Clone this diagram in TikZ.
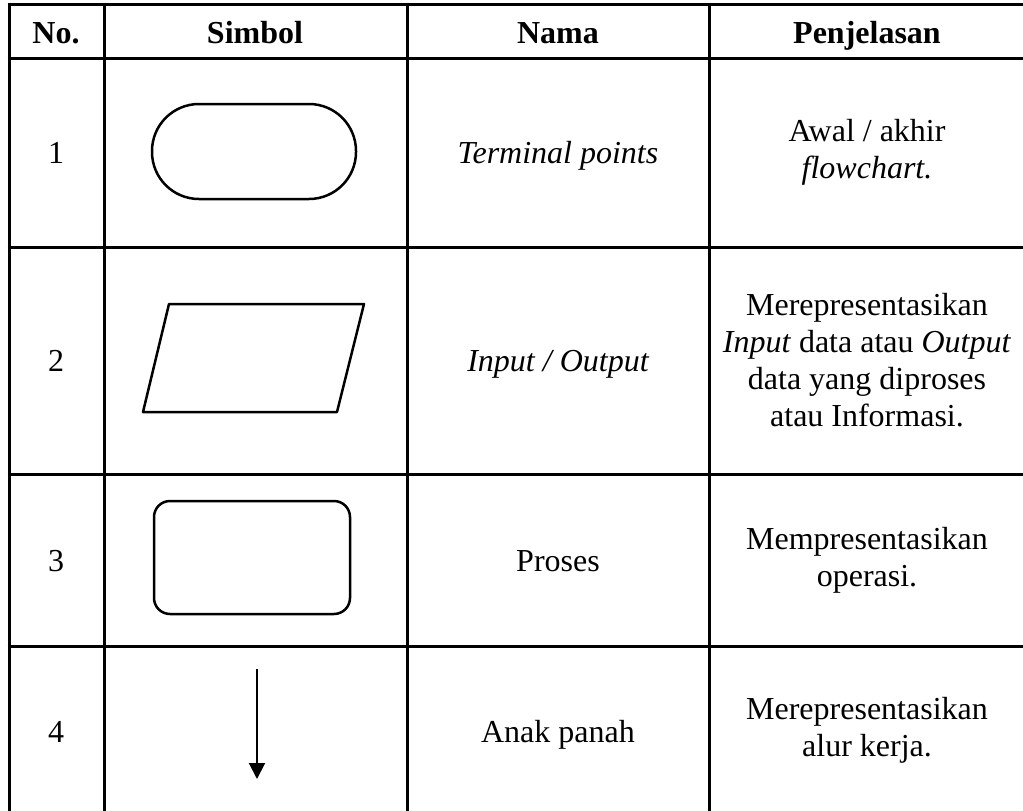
\documentclass[tikz,border=0pt]{standalone}
\usepackage{fontspec}
\setmainfont{Liberation Serif}
\usetikzlibrary{arrows.meta}

\begin{document}
\begin{tikzpicture}[x=1pt,y=-1pt,
    grid/.style={line width=3pt},
    symb/.style={line width=2.5pt, line join=round},
    cell/.style={align=center, inner sep=0pt, font=\fontsize{32}{37}\selectfont},
    line/.style={cell, anchor=base},
    head/.style={line, font=\fontsize{32}{37}\selectfont\bfseries}]
    \useasboundingbox (0,0) rectangle (1023,811);
    % table rules
    \foreach \x in {9,104,407,709}
        \draw[grid] (\x,2.5) -- (\x,812);
    \foreach \y in {4,58,247,474,646}
        \draw[grid] (7.5,\y) -- (1024,\y);
    % header
    \node[head] (hno) at (56,43) {No.};
    \node[head] (hsym) at (255,43) {Simbol};
    \node[head] (hname) at (558,43) {Nama};
    \node[head] (hdesc) at (867,43) {Penjelasan};
    % row 1
    \node[line] (no1) at (56,163) {1};
    \draw[symb, rounded corners=47pt] (152,104) rectangle (356,199);
    \node[line] (name1) at (558,163) {\itshape Terminal points};
    \node[cell] (desc1) at (867,152) {Awal / akhir\\\itshape flowchart.};
    % row 2
    \node[line] (no2) at (56,371) {2};
    \draw[symb] (169,304) -- (364,304) -- (337,412) -- (143,412) -- cycle;
    \node[line] (name2) at (558,371) {\itshape Input / Output};
    \node[cell] (desc2) at (867,360) {Merepresentasikan\\\textit{Input} data atau \textit{Output}\\data yang diproses\\atau Informasi.};
    % row 3
    \node[line] (no3) at (56,571) {3};
    \draw[symb, rounded corners=16pt] (154,501) rectangle (350,614);
    \node[line] (name3) at (558,571) {Proses};
    \node[cell] (desc3) at (867,560) {Mempresentasikan\\operasi.};
    % row 4
    \node[line] (no4) at (56,742) {4};
    \coordinate (a4top) at (257,669);
    \coordinate (a4tip) at (257,779);
    \draw[line width=2pt, -{Triangle[length=16pt,width=16pt]}] (a4top) -- (a4tip);
    \node[line] (name4) at (558,742) {Anak panah};
    \node[cell] (desc4) at (867,730) {Merepresentasikan\\alur kerja.};
\end{tikzpicture}
\end{document}
